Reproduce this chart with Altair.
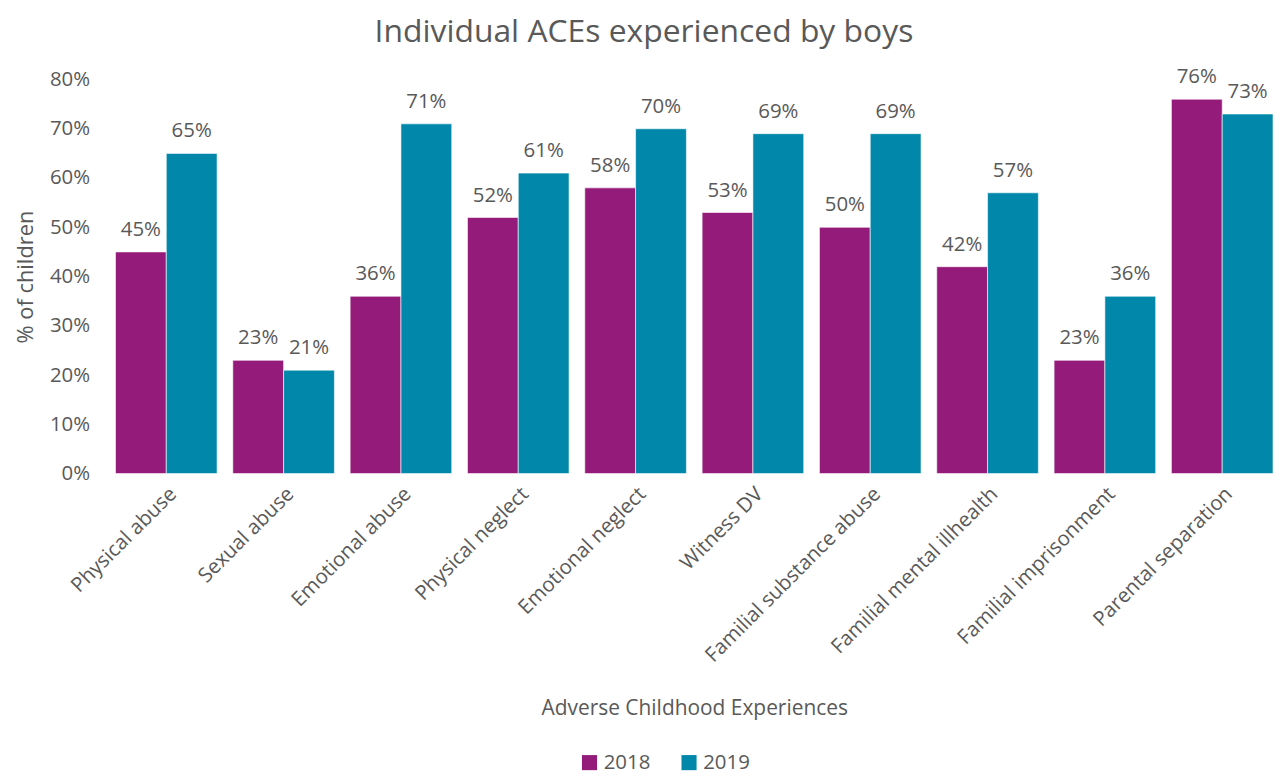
import altair as alt
import pandas as pd

categories = ["Physical abuse", "Sexual abuse", "Emotional abuse", "Physical neglect",
              "Emotional neglect", "Witness DV", "Familial substance abuse",
              "Familial mental illhealth", "Familial imprisonment", "Parental separation"]
years = ["2018", "2019"]
values_2018 = [45, 23, 36, 52, 58, 53, 50, 42, 23, 76]
values_2019 = [65, 21, 71, 61, 70, 69, 69, 57, 36, 73]

rows = []
for c, a, b in zip(categories, values_2018, values_2019):
    rows.append({"cat": c, "year": "2018", "val": a / 100})
    rows.append({"cat": c, "year": "2019", "val": b / 100})
df = pd.DataFrame(rows)

FONT = "Open Sans"
GREY = "#595959"
FS = 20.5

xenc = alt.X("cat:N", sort=categories, title="Adverse Childhood Experiences",
             scale=alt.Scale(paddingInner=0.134, paddingOuter=0),
             axis=alt.Axis(labelAngle=-45, labelFontSize=FS, labelColor=GREY, labelFont=FONT,
                           labelLimit=0,
                           titleFontSize=21, titleColor=GREY, titleFont=FONT, titleFontWeight="normal",
                           titlePadding=32, domain=False, ticks=False, labelPadding=10))
yenc = alt.Y("val:Q", title="% of children",
             scale=alt.Scale(domain=[0, 0.8]),
             axis=alt.Axis(format="%", values=[0, .1, .2, .3, .4, .5, .6, .7, .8],
                           grid=False, domain=False, ticks=False,
                           labelFontSize=FS, labelColor=GREY, labelFont=FONT, labelPadding=26,
                           titleFontSize=22, titleColor=GREY, titleFont=FONT, titleFontWeight="normal",
                           titlePadding=12))

color = alt.Color("year:N", scale=alt.Scale(domain=years, range=["#951B7B", "#0087A9"]),
                  legend=alt.Legend(title=None, orient="none", legendX=466, legendY=676,
                                    direction="horizontal",
                                    symbolType="square", symbolSize=230, symbolStrokeWidth=0,
                                    labelFontSize=FS, labelColor=GREY, labelFont=FONT,
                                    columnPadding=28))

base = alt.Chart(df).encode(x=xenc, y=yenc, xOffset=alt.XOffset("year:N", sort=years))

bars = base.mark_bar(stroke="white", strokeWidth=0.6).encode(color=color)
labels = base.mark_text(baseline="bottom", dy=-12, fontSize=FS, font=FONT, color=GREY).encode(
    text=alt.Text("val:Q", format=".0%"))

chart = (bars + labels).properties(
    width=1163, height=396,
    title=alt.TitleParams("Individual ACEs experienced by boys", fontSize=32, font=FONT,
                          color=GREY, fontWeight="normal", anchor="middle", frame="bounds",
                          offset=18),
    padding={"left": 6, "right": 0, "top": 6, "bottom": 2}
).configure_view(stroke=None)

chart.save("out.html", embed_options={"renderer": "svg", "actions": False})
